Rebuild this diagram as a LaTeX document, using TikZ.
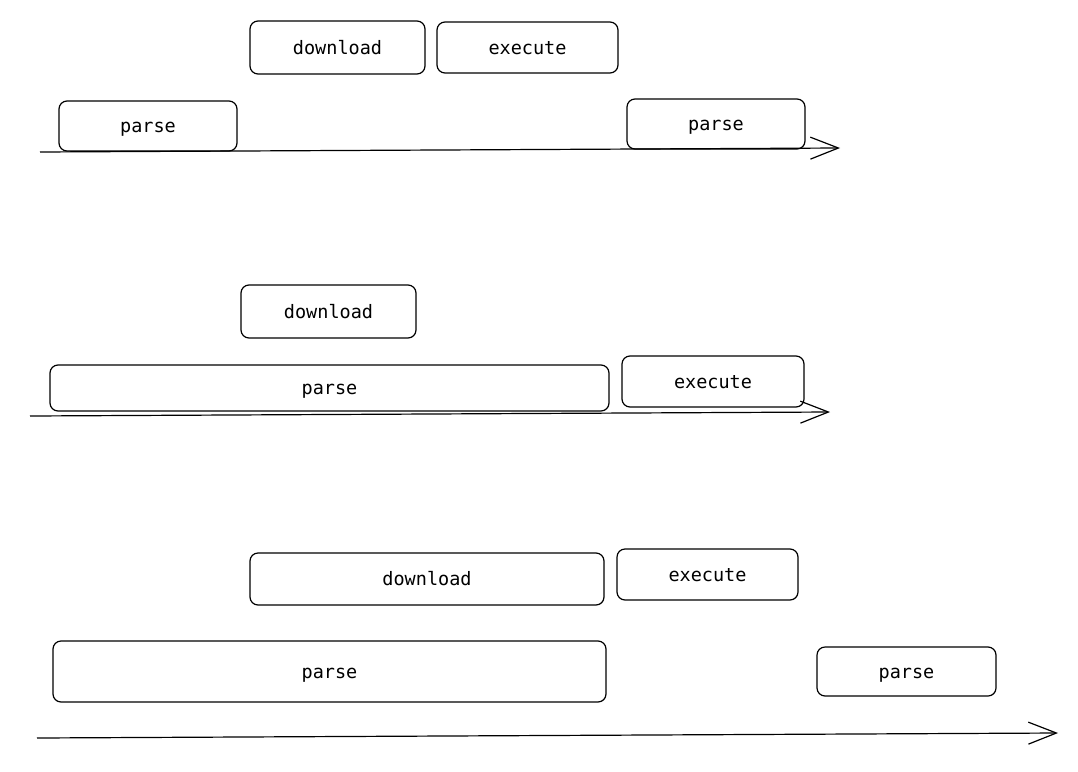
\documentclass[tikz,border=0pt]{standalone}
\usepackage{fontspec}
\setmonofont{DejaVu Sans Mono}
\usetikzlibrary{arrows.meta}
\tikzset{
	task/.style={draw,rounded corners=8pt,line width=1.2pt,inner sep=0pt,
		text height=14pt,text depth=0.5pt,
		font=\ttfamily\fontsize{18.5}{22}\selectfont},
	timeline/.style={line width=1.2pt,-{Straight Barb[length=28pt,width=22pt,line width=1.2pt]}}
}
\begin{document}
\begin{tikzpicture}[x=1pt,y=-1pt]
	\useasboundingbox (0,0) rectangle (1078,771);
	% first run
	\node[task,minimum width=175pt,minimum height=53pt] (dlA) at (337.5,47.5) {download};
	\node[task,minimum width=181pt,minimum height=51pt] (exA) at (527.5,47.5) {execute};
	\node[task,minimum width=178pt,minimum height=50pt] (paA) at (148,126) {parse};
	\node[task,minimum width=178pt,minimum height=50pt] (pbA) at (716,124) {parse};
	\coordinate (tA) at (40,152);
	\coordinate (eA) at (840,148);
	\draw[timeline] (tA)--(eA);
	% second run
	\node[task,minimum width=175pt,minimum height=53pt] (dlB) at (328.5,311.5) {download};
	\node[task,minimum width=559pt,minimum height=46pt] (paB) at (329.5,388) {parse};
	\node[task,minimum width=182pt,minimum height=51pt] (exB) at (713,381.5) {execute};
	\coordinate (tB) at (30,416);
	\coordinate (eB) at (830,412);
	\draw[timeline] (tB)--(eB);
	% third run
	\node[task,minimum width=354pt,minimum height=52pt] (dlC) at (427,579) {download};
	\node[task,minimum width=181pt,minimum height=51pt] (exC) at (707.5,574.5) {execute};
	\node[task,minimum width=553pt,minimum height=61pt] (paC) at (329.5,671.5) {parse};
	\node[task,minimum width=179pt,minimum height=49pt] (pbC) at (906.5,671.5) {parse};
	\coordinate (tC) at (37,738);
	\coordinate (eC) at (1058,733);
	\draw[timeline] (tC)--(eC);
\end{tikzpicture}
\end{document}
